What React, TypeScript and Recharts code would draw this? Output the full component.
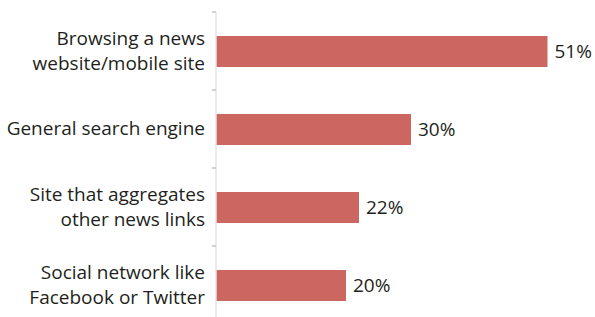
import { BarChart, Bar, XAxis, YAxis, LabelList } from "recharts";

// news discovery sources, share of respondents (%)
const categories = [
  "Browsing a news\nwebsite/mobile site",
  "General search engine",
  "Site that aggregates\nother news links",
  "Social network like\nFacebook or Twitter",
];
const shares = [51, 30, 22, 20];

const data = categories.map((name, i) => ({ name, value: shares[i] }));

const FONT = "'Open Sans', sans-serif";
const TEXT = "#231f20";

function CategoryTick(props: any) {
  const { x, y, payload } = props;
  const lines: string[] = String(payload.value).split("\n");
  const half = payload.offset || 39;
  const lineHeight = 25;
  return (
    <g>
      <line x1={x + 7} x2={x + 11} y1={y - half} y2={y - half} stroke="#c4c4c4" strokeWidth={1.5} />
      <text textAnchor="end" fontFamily={FONT} fontSize={19} fill={TEXT}>
        {lines.map((ln, i) => (
          <tspan key={i} x={x} y={y + 6 + (i - (lines.length - 1) / 2) * lineHeight}>
            {ln}
          </tspan>
        ))}
      </text>
    </g>
  );
}

export default function App() {
  return (
    <div style={{ position: "absolute", left: 0, top: 0, width: 595, height: 317, overflow: "hidden", background: "#fff" }}>
      <BarChart
        layout="vertical"
        width={595}
        height={330}
        data={data}
        margin={{ top: 12, right: 21.5, bottom: 6, left: 0 }}
      >
        <XAxis type="number" domain={[0, 55]} hide />
        <YAxis
          type="category"
          dataKey="name"
          width={216}
          axisLine={{ stroke: "#e4e4e4", strokeWidth: 1.5 }}
          tickLine={false}
          tickMargin={5}
          tick={<CategoryTick />}
          interval={0}
        />
        <Bar dataKey="value" fill="#cc6660" barSize={31} isAnimationActive={false}>
          <LabelList
            dataKey="value"
            position="right"
            offset={7}
            formatter={(v: any) => `${v}%`}
            style={{ fontFamily: FONT, fontSize: 19, fill: TEXT }}
          />
        </Bar>
      </BarChart>
    </div>
  );
}
